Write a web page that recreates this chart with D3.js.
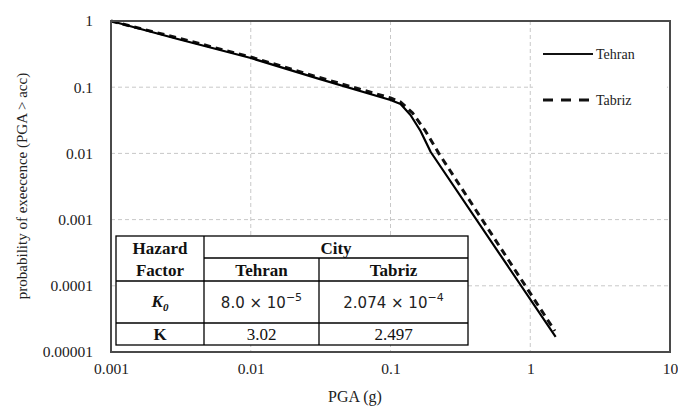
<!DOCTYPE html>
<html>
<head>
<meta charset="utf-8">
<script src="https://cdn.jsdelivr.net/npm/d3@7"></script>
<style>
  body { margin: 0; background: #fff; }
</style>
</head>
<body>
<svg id="chart" width="678" height="408" font-family="Liberation Serif, DejaVu Serif, serif"></svg>
<script>
// data
var tehranPGA  = [0.001, 0.003, 0.01, 0.03, 0.1, 0.118, 0.139, 0.164, 0.194, 1.52];
var tehranProb = [1, 0.535, 0.276, 0.136, 0.064, 0.0557, 0.038, 0.0218, 0.0105, 1.69e-5];
var tabrizPGA  = [0.001, 0.003, 0.01, 0.03, 0.1, 0.118, 0.144, 0.178, 0.221, 1.50];
var tabrizProb = [1, 0.554, 0.286, 0.143, 0.0687, 0.0598, 0.0408, 0.0218, 0.0101, 2.08e-5];

var xTicks = [0.001, 0.01, 0.1, 1, 10];
var xTickLabels = ["0.001", "0.01", "0.1", "1", "10"];
var yTicks = [1, 0.1, 0.01, 0.001, 0.0001, 0.00001];
var yTickLabels = ["1", "0.1", "0.01", "0.001", "0.0001", "0.00001"];

var seriesNames = ["Tehran", "Tabriz"];
var paramNames = ["K0", "K"];
var tehranParams = ["8.0 × 10", "3.02"];
var tehranExp = ["−5", ""];
var tabrizParams = ["2.074 × 10", "2.497"];
var tabrizExp = ["−4", ""];

var svg = d3.select("#chart");
var pLeft = 111, pRight = 670, pTop = 21, pBottom = 352;

var x = d3.scaleLog().domain([0.001, 10]).range([pLeft, pRight]);
var y = d3.scaleLog().domain([0.00001, 1]).range([pBottom, pTop]);

// grid
svg.append("g").selectAll("line")
  .data(yTicks.slice(1, -1))
  .enter().append("line")
  .attr("x1", pLeft).attr("x2", pRight)
  .attr("y1", d => y(d)).attr("y2", d => y(d))
  .attr("stroke", "#c8c8c8").attr("stroke-width", 1).attr("stroke-dasharray", "4,3");
svg.append("g").selectAll("line")
  .data(xTicks.slice(1, -1))
  .enter().append("line")
  .attr("y1", pTop).attr("y2", pBottom)
  .attr("x1", d => x(d)).attr("x2", d => x(d))
  .attr("stroke", "#c8c8c8").attr("stroke-width", 1).attr("stroke-dasharray", "4,3");

// axes (labels only, Excel style)
var xAxis = d3.axisBottom(x).tickValues(xTicks).tickFormat((d, i) => xTickLabels[i]).tickSize(0).tickPadding(11);
var gx = svg.append("g").attr("transform", "translate(0," + pBottom + ")").call(xAxis);
gx.select(".domain").remove();
gx.attr("font-family", "Liberation Serif").attr("font-size", 15.5);
gx.selectAll("text").attr("fill", "#222");

var yAxis = d3.axisLeft(y).tickValues(yTicks).tickFormat((d, i) => yTickLabels[i]).tickSize(0).tickPadding(18);
var gy = svg.append("g").attr("transform", "translate(" + pLeft + ",0)").call(yAxis);
gy.select(".domain").remove();
gy.attr("font-family", "Liberation Serif").attr("font-size", 15.5);
gy.selectAll("text").attr("fill", "#222");

// curves
var line = d3.line().x(d => x(d[0])).y(d => y(d[1]));
var tehran = tehranPGA.map((v, i) => [v, tehranProb[i]]);
var tabriz = tabrizPGA.map((v, i) => [v, tabrizProb[i]]);

svg.append("path").datum(tabriz).attr("d", line)
  .attr("fill", "none").attr("stroke", "#111").attr("stroke-width", 3)
  .attr("stroke-dasharray", "7,5");
svg.append("path").datum(tehran).attr("d", line)
  .attr("fill", "none").attr("stroke", "#000").attr("stroke-width", 2.2)
  .attr("stroke-linejoin", "round");

// frame
svg.append("rect").attr("x", pLeft).attr("y", pTop)
  .attr("width", pRight - pLeft).attr("height", pBottom - pTop)
  .attr("fill", "none").attr("stroke", "#4a4a4a").attr("stroke-width", 2);

// legend
var lg = svg.append("g");
lg.append("rect").attr("x", 533).attr("y", 32).attr("width", 134).attr("height", 88).attr("fill", "#fff");
var legY = [54, 100];
seriesNames.forEach(function (name, i) {
  lg.append("line").attr("x1", 543).attr("x2", 593)
    .attr("y1", legY[i]).attr("y2", legY[i])
    .attr("stroke", "#111").attr("stroke-width", i ? 3 : 2.2)
    .attr("stroke-dasharray", i ? "10,8" : null);
  lg.append("text").attr("x", 596).attr("y", legY[i] + 5)
    .attr("font-size", 14).attr("fill", "#222").text(name);
});

// axis titles
svg.append("text").attr("x", 355).attr("y", 402).attr("text-anchor", "middle")
  .attr("font-size", 16).attr("fill", "#222").text("PGA (g)");
svg.append("text").attr("transform", "translate(27,186) rotate(-90)")
  .attr("text-anchor", "middle").attr("font-size", 15).attr("fill", "#222")
  .text("probability of exeecence (PGA > acc)");

// table
var tb = svg.append("g");
var tx = [116, 204, 319, 468];
var ty = [236, 258, 281, 323, 345];
tb.append("rect").attr("x", tx[0]).attr("y", ty[0])
  .attr("width", tx[3] - tx[0]).attr("height", ty[4] - ty[0])
  .attr("fill", "#fff").attr("stroke", "#000").attr("stroke-width", 1.3);
[[tx[1], ty[0], tx[1], ty[4]], [tx[2], ty[1], tx[2], ty[4]],
 [tx[1], ty[1], tx[3], ty[1]], [tx[0], ty[2], tx[3], ty[2]], [tx[0], ty[3], tx[3], ty[3]]]
  .forEach(function (s) {
    tb.append("line").attr("x1", s[0]).attr("y1", s[1]).attr("x2", s[2]).attr("y2", s[3])
      .attr("stroke", "#000").attr("stroke-width", 1.3);
  });

function cell(cx, cy, txt, bold) {
  return tb.append("text").attr("x", cx).attr("y", cy).attr("text-anchor", "middle")
    .attr("font-size", 17).attr("font-weight", bold ? "bold" : null).attr("fill", "#111").text(txt);
}
cell((tx[0] + tx[1]) / 2, 254, "Hazard", true);
cell((tx[0] + tx[1]) / 2, 276, "Factor", true);
cell((tx[1] + tx[3]) / 2, 254, "City", true);
cell((tx[1] + tx[2]) / 2, 276, seriesNames[0], true);
cell((tx[2] + tx[3]) / 2, 276, seriesNames[1], true);

// K0 row
var k0 = cell((tx[0] + tx[1]) / 2, 307, "", true).attr("font-style", "italic");
k0.append("tspan").text(paramNames[0].charAt(0));
k0.append("tspan").attr("font-size", 11).attr("dy", 4).text(paramNames[0].slice(1));
cell((tx[0] + tx[1]) / 2, 340, paramNames[1], true);

function sci(cx, cy, base, exp) {
  var t = tb.append("text").attr("x", cx).attr("y", cy).attr("text-anchor", "middle")
    .attr("font-family", "DejaVu Sans").attr("font-size", 15).attr("fill", "#222");
  t.append("tspan").text(base);
  if (exp) t.append("tspan").attr("font-size", 11).attr("dy", -7).text(exp);
}
sci((tx[1] + tx[2]) / 2, 308, tehranParams[0], tehranExp[0]);
sci((tx[2] + tx[3]) / 2, 308, tabrizParams[0], tabrizExp[0]);
cell((tx[1] + tx[2]) / 2, 340, tehranParams[1], false);
cell((tx[2] + tx[3]) / 2, 340, tabrizParams[1], false);
</script>
</body>
</html>
